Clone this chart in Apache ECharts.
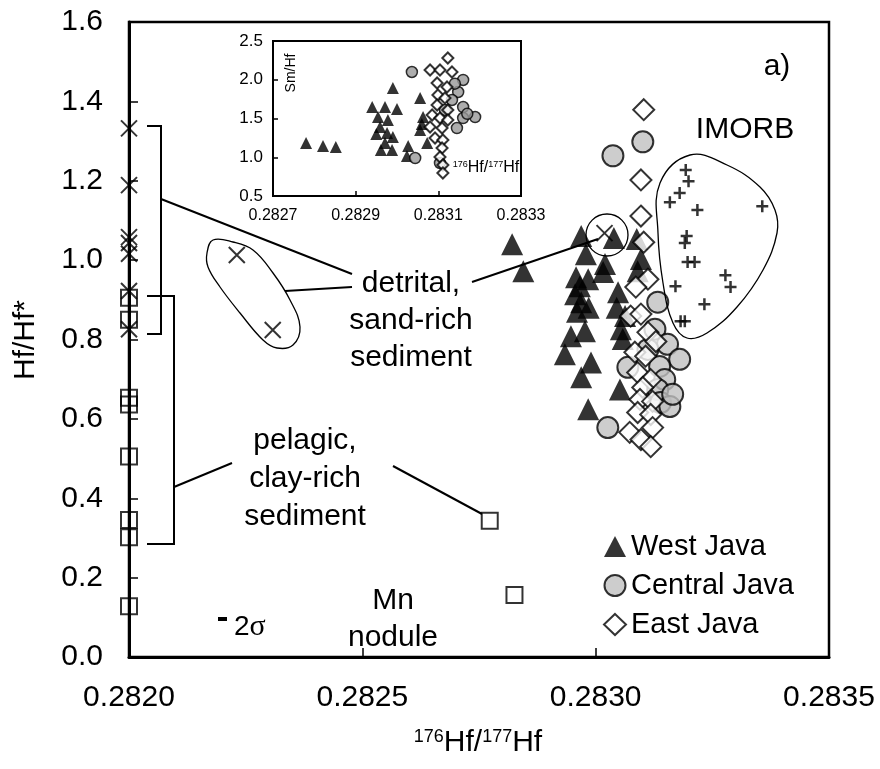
<!DOCTYPE html>
<html><head><meta charset="utf-8">
<script src="https://cdn.jsdelivr.net/npm/echarts@6/dist/echarts.min.js"></script>
<style>html,body{margin:0;padding:0;background:#fff}#c{width:880px;height:769px}</style>
</head><body><div id="c"></div>
<script>
// ---------- data ----------
const seriesNames = ['West Java', 'Central Java', 'East Java'];
const xTicksMain = [0.2820, 0.2825, 0.2830, 0.2835];
const yTicksMain = [0.0, 0.2, 0.4, 0.6, 0.8, 1.0, 1.2, 1.4, 1.6];
const xTicksInset = [0.2827, 0.2829, 0.2831, 0.2833];
const yTicksInset = [0.5, 1.0, 1.5, 2.0, 2.5];

// detrital, sand-rich sediment (x symbols)
const detrital = [[0.2820,1.332],[0.2820,1.189],[0.2820,1.058],[0.2820,1.043],[0.2820,1.016],[0.2820,0.922],[0.2820,0.826],
  [0.282231,1.013],[0.282308,0.824],[0.283019,1.068]];
// pelagic, clay-rich sediment & Mn nodule (squares)
const pelagic = [[0.2820,0.905],[0.2820,0.850],[0.2820,0.653],[0.2820,0.636],[0.2820,0.505],[0.2820,0.345],[0.2820,0.302],[0.2820,0.128],
  [0.282773,0.343],[0.282826,0.156]];
const westJava = [[0.282821,1.040],[0.282845,0.972],
  [0.282969,1.061],[0.283039,1.056],[0.283088,1.053],[0.282979,1.015],[0.283020,0.990],[0.283097,1.003],
  [0.282958,0.957],[0.282984,0.952],[0.282966,0.934],[0.282956,0.914],[0.282969,0.894],[0.283048,0.919],
  [0.282960,0.870],[0.282985,0.880],[0.283045,0.880],
  [0.282947,0.808],[0.282977,0.821],[0.282934,0.763],[0.282990,0.742],[0.282969,0.705],[0.283052,0.674],
  [0.282984,0.624],[0.283063,0.859],[0.283054,0.826],[0.283058,0.801],[0.283016,0.970],[0.283090,0.972]];
const centralJava = [[0.283101,1.298],[0.283037,1.263],[0.283133,0.894],[0.283127,0.826],[0.283154,0.788],[0.283180,0.750],
  [0.283137,0.732],[0.283069,0.730],[0.283148,0.699],[0.283133,0.674],[0.283139,0.641],[0.283159,0.631],[0.283026,0.578],
  [0.283112,0.775],[0.283165,0.662]];
const eastJava = [[0.283103,1.379],[0.283097,1.202],[0.283097,1.111],[0.283103,1.045],[0.283112,0.952],[0.283086,0.932],
  [0.283075,0.859],[0.283097,0.864],[0.283112,0.818],[0.283129,0.795],[0.283084,0.768],[0.283107,0.758],[0.283090,0.717],
  [0.283118,0.699],[0.283101,0.679],[0.283095,0.649],[0.283122,0.644],[0.283090,0.616],[0.283118,0.611],[0.283122,0.578],
  [0.283073,0.566],[0.283097,0.548],[0.283118,0.530]];
const imorb = [[0.283193,1.227],[0.283199,1.199],[0.283180,1.169],[0.283159,1.146],[0.283218,1.126],[0.283357,1.136],
  [0.283195,1.061],[0.283191,1.043],[0.283197,0.995],[0.283212,0.995],[0.283171,0.934],[0.283278,0.962],[0.283289,0.932],
  [0.283233,0.889],[0.283182,0.846],[0.283191,0.846]];

// inset: Sm/Hf vs 176Hf/177Hf
const westInset = [[0.282780,1.184],[0.282821,1.145],[0.282852,1.132],[0.282990,1.894],[0.282940,1.648],[0.282971,1.648],
  [0.283000,1.623],[0.282954,1.519],[0.282978,1.481],[0.282959,1.390],[0.282976,1.313],[0.282990,1.261],[0.282971,1.184],
  [0.282988,1.094],[0.282961,1.094],[0.283027,1.145],[0.283024,1.016],[0.283056,1.765],[0.283063,1.519],[0.283056,1.352],
  [0.283073,1.184],[0.282950,1.300],[0.283060,1.430]];
const centralInset = [[0.283036,2.100],[0.283160,1.997],[0.283148,1.842],[0.283160,1.648],[0.283189,1.519],[0.283160,1.506],
  [0.283145,1.377],[0.283044,0.990],[0.283104,0.926],[0.283116,1.610],[0.283133,1.739],[0.283140,1.950],[0.283170,1.560]];
const eastInset = [[0.283123,2.281],[0.283080,2.126],[0.283104,2.126],[0.283133,2.100],[0.283097,1.958],[0.283121,1.906],
  [0.283099,1.803],[0.283116,1.765],[0.283097,1.674],[0.283123,1.610],[0.283085,1.545],[0.283104,1.506],[0.283123,1.481],
  [0.283080,1.390],[0.283109,1.377],[0.283092,1.248],[0.283111,1.223],[0.283109,1.119],[0.283104,1.003],[0.283111,0.900],
  [0.283111,0.797]];

// ---------- chart ----------
const FONT = '"Liberation Sans", Arial, sans-serif';
const chart = echarts.init(document.getElementById('c'), null, {renderer: 'canvas'});
const noEmph = {disabled: true};
const XPATH = 'path://M0 0L10 10M10 0L0 10';
const PLUS = 'path://M5 0L5 10M0 5L10 5';

function axisCommon(fs, margin, tickLen, lw, dec) {
  return {
    axisLine: {show: true, onZero: false, lineStyle: {color: '#000', width: lw}},
    axisTick: {show: true, inside: true, length: tickLen, lineStyle: {color: '#000', width: 1.5}},
    splitLine: {show: false},
    axisLabel: {color: '#000', fontSize: fs, fontFamily: FONT, margin: margin, formatter: v => Number(v).toFixed(dec)}
  };
}

const option = {
  animation: false,
  backgroundColor: '#fff',
  grid: [
    {left: 129, top: 22, width: 700, height: 635, show: true, borderColor: '#000', borderWidth: 2.5, backgroundColor: 'transparent'},
    {left: 273, top: 41, width: 248, height: 155, show: true, borderColor: '#000', borderWidth: 2, backgroundColor: '#fff', z: 3}
  ],
  xAxis: [
    Object.assign(axisCommon(30, 26, 9, 3, 4), {type: 'value', gridIndex: 0, min: xTicksMain[0], max: xTicksMain[xTicksMain.length-1],
      interval: xTicksMain[1]-xTicksMain[0]}),
    Object.assign(axisCommon(16, 12, 5, 2, 4), {type: 'value', gridIndex: 1, min: xTicksInset[0], max: xTicksInset[xTicksInset.length-1],
      interval: xTicksInset[1]-xTicksInset[0], z: 4})
  ],
  yAxis: [
    Object.assign(axisCommon(30, 26, 9, 3, 1), {type: 'value', gridIndex: 0, min: yTicksMain[0], max: yTicksMain[yTicksMain.length-1],
      interval: yTicksMain[1]-yTicksMain[0]}),
    Object.assign(axisCommon(17, 10, 5, 2, 1), {type: 'value', gridIndex: 1, min: yTicksInset[0], max: yTicksInset[yTicksInset.length-1],
      interval: yTicksInset[1]-yTicksInset[0], z: 4})
  ],
  legend: {
    orient: 'vertical', left: 598, top: 527, itemWidth: 22, itemHeight: 21, itemGap: 10, selectedMode: false,
    textStyle: {fontSize: 29, color: '#000', fontFamily: FONT, padding: [0,0,0,0]},
    data: [{name: seriesNames[0], icon: 'triangle'}, {name: seriesNames[1], icon: 'circle'}, {name: seriesNames[2], icon: 'diamond'}]
  },
  series: [
    {name: 'detrital', type: 'scatter', xAxisIndex: 0, yAxisIndex: 0, data: detrital, symbol: XPATH, symbolSize: 16,
      itemStyle: {color: 'rgba(0,0,0,0)', borderColor: '#000', borderWidth: 2}, emphasis: noEmph, z: 5},
    {name: 'pelagic', type: 'scatter', xAxisIndex: 0, yAxisIndex: 0, data: pelagic, symbol: 'rect', symbolSize: 16,
      itemStyle: {color: 'rgba(0,0,0,0)', borderColor: '#000', borderWidth: 2}, emphasis: noEmph, z: 5},
    {name: 'IMORB', type: 'scatter', xAxisIndex: 0, yAxisIndex: 0, data: imorb, symbol: PLUS, symbolSize: 12,
      itemStyle: {color: 'rgba(0,0,0,0)', borderColor: '#000', borderWidth: 2.5}, emphasis: noEmph},
    {name: seriesNames[0], type: 'scatter', xAxisIndex: 0, yAxisIndex: 0, data: westJava, symbol: 'triangle', symbolSize: [22,22],
      itemStyle: {color: '#000', borderColor: '#000', borderWidth: 0}, emphasis: noEmph},
    {name: seriesNames[1], type: 'scatter', xAxisIndex: 0, yAxisIndex: 0, data: centralJava, symbol: 'circle', symbolSize: 21,
      itemStyle: {color: '#c0c0c0', borderColor: '#000', borderWidth: 2}, emphasis: noEmph},
    {name: seriesNames[2], type: 'scatter', xAxisIndex: 0, yAxisIndex: 0, data: eastJava, symbol: 'diamond', symbolSize: 21,
      itemStyle: {color: '#fff', borderColor: '#000', borderWidth: 2}, emphasis: noEmph},
    {name: 'W inset', type: 'scatter', xAxisIndex: 1, yAxisIndex: 1, data: westInset, symbol: 'triangle', symbolSize: 12,
      itemStyle: {color: '#000'}, emphasis: noEmph, z: 5},
    {name: 'C inset', type: 'scatter', xAxisIndex: 1, yAxisIndex: 1, data: centralInset, symbol: 'circle', symbolSize: 11,
      itemStyle: {color: '#999', borderColor: '#000', borderWidth: 1.5}, emphasis: noEmph, z: 5},
    {name: 'E inset', type: 'scatter', xAxisIndex: 1, yAxisIndex: 1, data: eastInset, symbol: 'diamond', symbolSize: 11,
      itemStyle: {color: '#fff', borderColor: '#000', borderWidth: 2}, emphasis: noEmph, z: 5}
  ]
};

function txt(x, y, text, fs, extra) {
  return Object.assign({type: 'text', x: x, y: y, z: 10, style: {text: text, fontSize: fs, fontFamily: FONT, fill: '#000',
    align: 'center', verticalAlign: 'middle', textAlign: 'center', textVerticalAlign: 'middle'}}, extra || {});
}
function line(pts, w) {
  return {type: 'polyline', z: 9, shape: {points: pts}, style: {stroke: '#000', lineWidth: w || 2, fill: null}};
}
const supText = (x, y, fsMain, fsSup) => ({type: 'text', x: x, y: y, z: 10,
  style: {text: '{s|176}{n|Hf/}{s|177}{n|Hf}', fontFamily: FONT, fill: '#000', align: 'center', verticalAlign: 'middle',
    textAlign: 'center', textVerticalAlign: 'middle',
    rich: {s: {fontSize: fsSup, fontFamily: FONT, verticalAlign: 'top', fill: '#000'},
           n: {fontSize: fsMain, fontFamily: FONT, verticalAlign: 'bottom', fill: '#000'}}}});

const AF = 30; // annotation font
option.graphic = [
  // axis titles
  supText(478, 743, 30, 18),
  txt(26, 340, 'Hf/Hf*', 30, {rotation: Math.PI/2}),
  // inset titles
  txt(291, 73, 'Sm/Hf', 14, {rotation: Math.PI/2}),
  supText(486, 168, 16, 9),
  // panel label & IMORB
  txt(777, 67, 'a)', AF),
  txt(745, 130, 'IMORB', AF),
  // detrital text
  txt(411, 284, 'detrital,', AF), txt(411, 321, 'sand-rich', AF), txt(411, 358, 'sediment', AF),
  // pelagic text
  txt(305, 441, 'pelagic,', AF), txt(305, 479, 'clay-rich', AF), txt(305, 517, 'sediment', AF),
  // Mn nodule
  txt(393, 601, 'Mn', AF), txt(393, 638, 'nodule', AF),
  // 2 sigma
  {type: 'rect', z: 10, shape: {x: 218, y: 617, width: 9, height: 4}, style: {fill: '#000'}},
  {type: 'text', x: 234, y: 627, z: 10, style: {text: '{a|2}{b|σ}', fill: '#000', align: 'left', verticalAlign: 'middle',
    textAlign: 'left', textVerticalAlign: 'middle',
    rich: {a: {fontSize: 28, fontFamily: FONT}, b: {fontSize: 30, fontFamily: '"Liberation Serif", "Times New Roman", serif'}}}},
  // brackets
  line([[147,126],[161,126],[161,334],[147,334]], 2),
  line([[147,296],[174,296],[174,544],[147,544]], 2),
  // leader lines
  line([[161,199],[352,274]], 2),
  line([[285,291],[352,287]], 2),
  line([[472,282],[598,239]], 2),
  line([[174,487],[232,463]], 2),
  line([[393,466],[482,514]], 2),
  // small circle
  {type: 'circle', z: 9, shape: {cx: 607, cy: 235, r: 21}, style: {stroke: '#000', lineWidth: 1.3, fill: null}},
  // ellipse around two sediments
  {type: 'polygon', z: 9, shape: {smooth: 0.4, points: [[207,253],[213,240],[233,242],[253,250],[273,273],[290,300],[300,327],
    [293,345],[277,348],[263,340],[240,313],[220,287],[208,267]]}, style: {stroke: '#000', lineWidth: 1.3, fill: null}},
  // IMORB outline
  {type: 'polygon', z: 9, shape: {smooth: 0.4, points: [[690,155],[660,183],[658,233],[663,283],[673,323],[687,338],[707,333],
    [737,307],[763,270],[777,233],[775,210],[760,187],[727,165]]}, style: {stroke: '#000', lineWidth: 1.3, fill: null}}
];

chart.setOption(option);
</script>
</body></html>
